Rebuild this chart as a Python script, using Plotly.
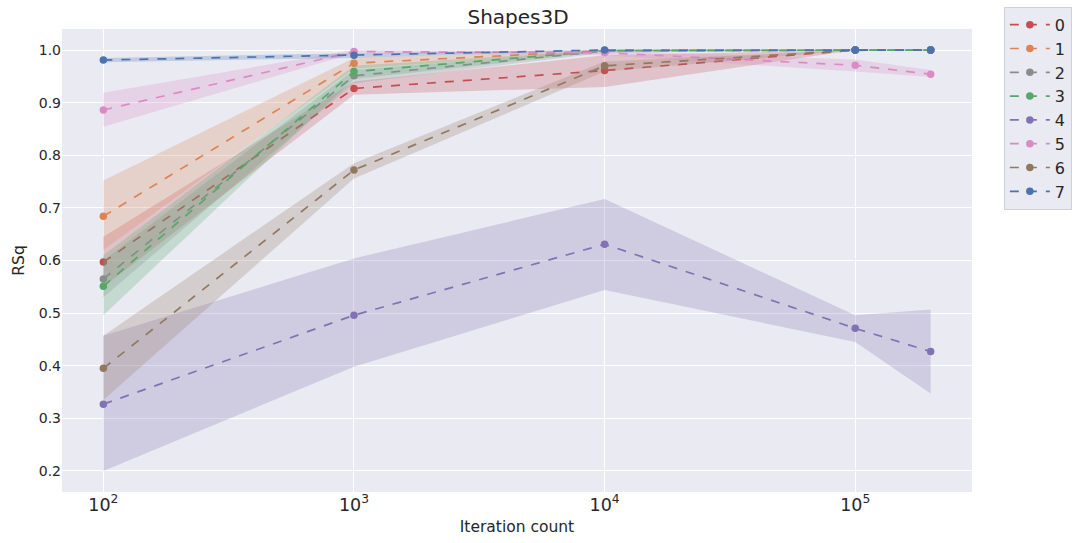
import plotly.graph_objects as go

# Iteration counts on the x axis
iterations = [100, 1000, 10000, 100000, 200000]

series_names = ["0", "1", "2", "3", "4", "5", "6", "7"]

# Mean RSq per series
mean_0 = [0.597, 0.927, 0.961, 1.000, 1.000]
mean_1 = [0.684, 0.975, 0.999, 1.000, 1.000]
mean_2 = [0.565, 0.951, 0.998, 1.000, 1.000]
mean_3 = [0.551, 0.959, 0.999, 1.000, 1.000]
mean_4 = [0.327, 0.496, 0.631, 0.471, 0.427]
mean_5 = [0.886, 0.997, 0.995, 0.971, 0.954]
mean_6 = [0.395, 0.772, 0.970, 1.000, 1.000]
mean_7 = [0.981, 0.990, 1.000, 1.000, 1.000]

# Lower / upper confidence bounds
low_0 = [0.550, 0.915, 0.930, 1.000, 1.000]
high_0 = [0.645, 0.940, 0.990, 1.000, 1.000]
low_1 = [0.620, 0.965, 0.997, 1.000, 1.000]
high_1 = [0.752, 0.985, 1.000, 1.000, 1.000]
low_2 = [0.530, 0.937, 0.995, 1.000, 1.000]
high_2 = [0.600, 0.962, 1.000, 1.000, 1.000]
low_3 = [0.496, 0.945, 0.997, 1.000, 1.000]
high_3 = [0.610, 0.970, 1.000, 1.000, 1.000]
low_4 = [0.200, 0.398, 0.544, 0.445, 0.347]
high_4 = [0.457, 0.604, 0.717, 0.496, 0.507]
low_5 = [0.854, 0.994, 0.990, 0.959, 0.949]
high_5 = [0.919, 1.000, 0.999, 0.982, 0.962]
low_6 = [0.335, 0.756, 0.959, 1.000, 1.000]
high_6 = [0.457, 0.785, 0.978, 1.000, 1.000]
low_7 = [0.977, 0.985, 1.000, 1.000, 1.000]
high_7 = [0.985, 0.994, 1.000, 1.000, 1.000]

means = [mean_0, mean_1, mean_2, mean_3, mean_4, mean_5, mean_6, mean_7]
lows = [low_0, low_1, low_2, low_3, low_4, low_5, low_6, low_7]
highs = [high_0, high_1, high_2, high_3, high_4, high_5, high_6, high_7]

colors = ["#C44E52", "#DD8452", "#8C8C8C", "#55A868",
          "#8172B3", "#DA8BC3", "#937860", "#4C72B0"]

y_ticks = [0.2, 0.3, 0.4, 0.5, 0.6, 0.7, 0.8, 0.9, 1.0]


def rgba(hex_color, alpha):
    h = hex_color.lstrip("#")
    r, g, b = int(h[0:2], 16), int(h[2:4], 16), int(h[4:6], 16)
    return f"rgba({r},{g},{b},{alpha})"


fig = go.Figure()

for name, m, lo, hi, c in zip(series_names, means, lows, highs, colors):
    # shaded band
    fig.add_trace(go.Scatter(
        x=iterations + iterations[::-1],
        y=hi + lo[::-1],
        fill="toself",
        fillcolor=rgba(c, 0.25),
        line=dict(width=0),
        mode="lines",
        showlegend=False,
        hoverinfo="skip",
    ))
    # mean line
    fig.add_trace(go.Scatter(
        x=iterations,
        y=m,
        name=name,
        mode="lines+markers",
        line=dict(color=c, width=1.7, dash="dash"),
        marker=dict(color=c, size=7.5),
    ))

font_family = "DejaVu Sans"
text_color = "#262626"

fig.update_layout(
    width=1077,
    height=543,
    margin=dict(l=62, r=105, t=29, b=51, autoexpand=False),
    paper_bgcolor="white",
    plot_bgcolor="#EAEAF2",
    font=dict(family=font_family, color=text_color, size=14),
    title=dict(text="Shapes3D", x=0.481, xanchor="center", y=0.968, yanchor="middle",
               font=dict(size=20, family=font_family, color=text_color)),
    xaxis=dict(
        type="log",
        range=[1.835, 5.466],
        dtick=1,
        exponentformat="power",
        showgrid=True,
        gridcolor="white",
        gridwidth=1,
        zeroline=False,
        showline=False,
        ticks="",
        tickfont=dict(size=14),
        title=dict(text="Iteration count", font=dict(size=15.5), standoff=7),
    ),
    yaxis=dict(
        range=[0.16, 1.04],
        tickvals=y_ticks,
        tickformat=".1f",
        showgrid=True,
        gridcolor="white",
        gridwidth=1,
        zeroline=False,
        showline=False,
        ticks="",
        tickfont=dict(size=14),
        title=dict(text="RSq", font=dict(size=15.5), standoff=10),
    ),
    legend=dict(
        x=1.035, y=1.048, xanchor="left", yanchor="top",
        bgcolor="#EAEAF2",
        bordercolor="#D0D0D8",
        borderwidth=1,
        font=dict(size=16),
        tracegroupgap=0,
        itemwidth=40,
    ),
)

fig.write_html("out.html")
